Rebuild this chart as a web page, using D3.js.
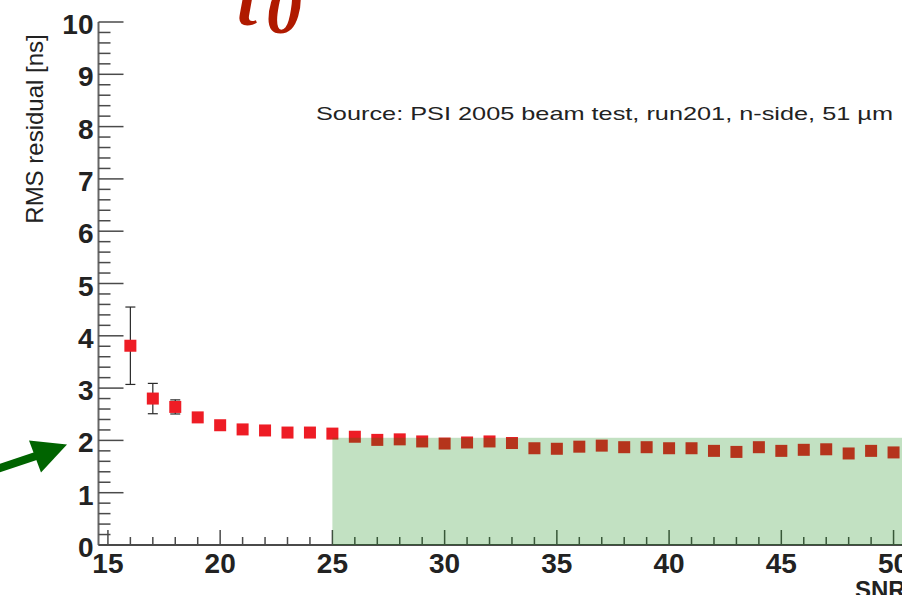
<!DOCTYPE html>
<html>
<head>
<meta charset="utf-8">
<script src="https://cdn.jsdelivr.net/npm/d3@7"></script>
<style>
  body { margin: 0; background: #fff; }
  svg { display: block; }
  text { font-family: "Liberation Sans", Arial, Helvetica, sans-serif; fill: #222; }
</style>
</head>
<body>
<div id="chart"></div>
<script>
// SNR bins and RMS residual [ns]
var snr = [16, 17, 18, 19, 20, 21, 22, 23, 24, 25, 26, 27, 28, 29, 30, 31, 32, 33,
           34, 35, 36, 37, 38, 39, 40, 41, 42, 43, 44, 45, 46, 47, 48, 49, 50];
var rms = [3.81, 2.80, 2.64, 2.44, 2.29, 2.21, 2.19, 2.15, 2.15, 2.13, 2.07, 2.01, 2.02, 1.98, 1.94, 1.96, 1.98, 1.95,
           1.85, 1.84, 1.88, 1.90, 1.87, 1.87, 1.85, 1.85, 1.80, 1.78, 1.87, 1.80, 1.82, 1.83, 1.75, 1.80, 1.77];
var rmsErr = [0.74, 0.29, 0.135, 0.08, 0.05, 0.04, 0.04, 0.03, 0.03, 0.03, 0.03, 0.03, 0.03, 0.03, 0.03, 0.03, 0.03, 0.03,
              0.03, 0.03, 0.03, 0.03, 0.03, 0.03, 0.03, 0.03, 0.03, 0.03, 0.03, 0.03, 0.03, 0.03, 0.03, 0.03, 0.03];

var xMajor = [15, 20, 25, 30, 35, 40, 45, 50];
var yMajor = [0, 1, 2, 3, 4, 5, 6, 7, 8, 9, 10];
var band = {"from": 25, "top": 2.05}; // shaded acceptable region
var sourceText = "Source: PSI 2005 beam test, run201, n-side, 51 µm";

var width = 902, height = 595;
var svg = d3.select("#chart").append("svg").attr("width", width).attr("height", height);

var x = d3.scaleLinear().domain([14.58, 51]).range([98.5, 916]);
var y = d3.scaleLinear().domain([0, 10]).range([545, 22]);

var axisColor = "#4a4a4a";

// title fragment (cropped at the top)
var title = svg.append("text")
    .attr("x", 237).attr("y", 25)
    .style("font-family", "'Liberation Serif', 'DejaVu Serif', serif")
    .style("font-style", "italic").style("font-weight", "bold")
    .style("font-size", "72px").style("fill", "#b01a00");
title.append("tspan").text("t");
title.append("tspan").attr("dy", 8).attr("dx", 9).text("0");

// error bars
var pts = snr.map(function(d, i) { return {"x": d, "y": rms[i], "e": rmsErr[i]}; });
var eb = svg.append("g").attr("stroke", "#2a2a2a").attr("stroke-width", 1.2);
eb.selectAll("line.v").data(pts).enter().append("line")
    .attr("x1", d => x(d.x)).attr("x2", d => x(d.x))
    .attr("y1", d => y(d.y - d.e)).attr("y2", d => y(d.y + d.e));
eb.selectAll("line.t").data(pts).enter().append("line")
    .attr("x1", d => x(d.x) - 5).attr("x2", d => x(d.x) + 5)
    .attr("y1", d => y(d.y + d.e)).attr("y2", d => y(d.y + d.e));
eb.selectAll("line.b").data(pts).enter().append("line")
    .attr("x1", d => x(d.x) - 5).attr("x2", d => x(d.x) + 5)
    .attr("y1", d => y(d.y - d.e)).attr("y2", d => y(d.y - d.e));

// markers
var sq = 12;
svg.append("g").selectAll("rect").data(pts).enter().append("rect")
    .attr("x", d => x(d.x) - sq / 2).attr("y", d => y(d.y) - sq / 2)
    .attr("width", sq).attr("height", sq)
    .attr("fill", "#ee1c25");

// x axis: major every 5, minor every 1, ticks inside
var xAxis = svg.append("g").attr("transform", "translate(0," + y(0) + ")");
xAxis.append("line").attr("x1", x.range()[0]).attr("x2", x.range()[1])
    .attr("stroke", axisColor).attr("stroke-width", 2);
xAxis.selectAll("line.minor").data(d3.range(15, 52)).enter().append("line")
    .attr("x1", d => x(d)).attr("x2", d => x(d))
    .attr("y1", 0).attr("y2", d => d % 5 === 0 ? -15 : -8)
    .attr("stroke", axisColor).attr("stroke-width", 1.5);
xAxis.selectAll("text").data(xMajor).enter().append("text")
    .attr("x", d => x(d)).attr("y", 28)
    .attr("text-anchor", "middle")
    .style("font-size", "28px").style("font-weight", "bold")
    .text(d => d);

// y axis: major every 1, minor every 0.2, ticks inside
var yAxis = svg.append("g").attr("transform", "translate(" + x.range()[0] + ",0)");
yAxis.append("line").attr("y1", y(0)).attr("y2", y(10))
    .attr("stroke", "#666").attr("stroke-width", 2);
yAxis.selectAll("line.tick").data(d3.range(0, 51).map(d => d / 5)).enter().append("line")
    .attr("y1", d => y(d)).attr("y2", d => y(d))
    .attr("x1", 0).attr("x2", (d, i) => i % 5 === 0 ? 25 : 12)
    .attr("stroke", axisColor).attr("stroke-width", 1.5);
yAxis.selectAll("text").data(yMajor).enter().append("text")
    .attr("x", -5).attr("y", d => y(d) + 12)
    .attr("text-anchor", "end")
    .style("font-size", "28px").style("font-weight", "bold")
    .text(d => d);

// axis titles
svg.append("text")
    .attr("transform", "translate(43," + 129 + ") rotate(-90)")
    .attr("text-anchor", "middle")
    .style("font-size", "24px")
    .text("RMS residual [ns]");
svg.append("text")
    .attr("x", 855).attr("y", 598)
    .style("font-size", "24px").style("font-weight", "bold")
    .text("SNR");

// source note
svg.append("text")
    .attr("x", 316).attr("y", 120)
    .attr("textLength", 577).attr("lengthAdjust", "spacingAndGlyphs")
    .style("font-size", "19px")
    .text(sourceText);

// shaded acceptance band drawn over the points
svg.append("rect")
    .attr("x", x(band.from)).attr("y", y(band.top))
    .attr("width", x.range()[1] - x(band.from)).attr("height", y(0) - y(band.top))
    .attr("fill", "rgb(0,128,0)").attr("fill-opacity", 0.24);

// green arrow pointing at the y = 2 label
var tipX = 67, tipY = y(1.92);
svg.append("line")
    .attr("x1", -5).attr("y1", tipY + 25).attr("x2", tipX - 30).attr("y2", tipY + 11)
    .attr("stroke", "#006400").attr("stroke-width", 8);
svg.append("path")
    .attr("d", "M" + tipX + "," + tipY + "L" + (tipX - 38) + "," + (tipY - 4) +
               "L" + (tipX - 26) + "," + (tipY + 28) + "Z")
    .attr("fill", "#006400");
</script>
</body>
</html>
